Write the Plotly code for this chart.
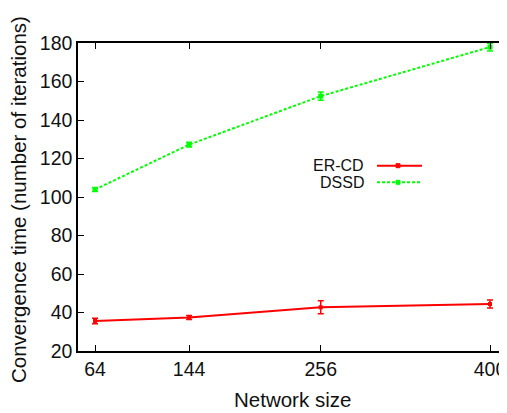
import plotly.graph_objects as go

network_size = [64, 144, 256, 400]
ercd_mean = [35.6, 37.4, 42.7, 44.4]
ercd_err = [1.4, 1.0, 3.4, 2.1]
dssd_mean = [103.9, 127.2, 152.4, 177.9]
dssd_err = [1.0, 1.2, 2.2, 2.0]
y_ticks = [20, 40, 60, 80, 100, 120, 140, 160, 180]

RED = "#ff0000"
GREEN = "#00ff00"
FONT = "Liberation Sans, Arial, sans-serif"
TXT = "#111111"

# the page body adds an 8px offset; work in screen pixels and subtract it
OFF = 8
FIG_W, FIG_H = 507 - OFF, 413 - OFF
# plot area in screen pixels
L, R, T, B = 78, 507, 43, 351
W, H = R - L, B - T

def px(x):
    return (x - L) / W

def py(y):
    return 1 - (y - T) / H

fig = go.Figure()
fig.add_trace(go.Scatter(
    x=network_size, y=ercd_mean, name="ER-CD", mode="lines+markers",
    line=dict(color=RED, width=2),
    marker=dict(symbol="square", size=4, color=RED),
    error_y=dict(type="data", array=ercd_err, color=RED, thickness=1.5, width=3),
))
fig.add_trace(go.Scatter(
    x=network_size, y=dssd_mean, name="DSSD", mode="lines+markers",
    line=dict(color=GREEN, width=2, dash="3px,2px"),
    marker=dict(symbol="square", size=5, color=GREEN),
    error_y=dict(type="data", array=dssd_err, color=GREEN, thickness=1.5, width=3),
))

# manual legend (gnuplot style: label on the left, sample on the right)
legend_items = [("ER-CD", RED, "solid"), ("DSSD", GREEN, "3px,2px")]
for i, (label, col, dash) in enumerate(legend_items):
    yy = 165.7 + i * 16.6
    fig.add_annotation(x=px(366), y=py(yy), xref="paper", yref="paper",
                       text=label, showarrow=False, xanchor="right", yanchor="middle",
                       font=dict(family=FONT, size=16, color=TXT))
    fig.add_shape(type="line", xref="paper", yref="paper", x0=px(377), x1=px(422),
                  y0=py(yy), y1=py(yy), line=dict(color=col, width=2, dash=dash))
    fig.add_shape(type="rect", xref="paper", yref="paper",
                  x0=px(396), x1=px(400), y0=py(yy + 2), y1=py(yy - 2),
                  line=dict(color=col, width=1), fillcolor=col)

# axis titles
fig.add_annotation(x=px(292), y=py(399), xref="paper", yref="paper", text="Network size",
                   showarrow=False, xanchor="center", yanchor="middle",
                   font=dict(family=FONT, size=20.5, color=TXT))
fig.add_annotation(x=px(18), y=py(200), xref="paper", yref="paper",
                   text="Convergence time (number of iterations)", textangle=-90,
                   showarrow=False, xanchor="center", yanchor="middle",
                   font=dict(family=FONT, size=20.5, color=TXT))

axis_common = dict(
    showline=True, linecolor="black", linewidth=1.5, mirror="ticks",
    ticks="inside", ticklen=6, tickwidth=1, tickcolor="black",
    showgrid=False, zeroline=False, automargin=False, ticklabeloverflow="allow",
    tickfont=dict(family=FONT, size=19.5, color=TXT),
)

fig.update_layout(
    width=FIG_W, height=FIG_H,
    margin=dict(l=L - OFF, r=507 - R, t=T - OFF, b=FIG_H - (B - OFF), pad=0),
    paper_bgcolor="white", plot_bgcolor="white",
    showlegend=False,
    xaxis=dict(range=[49.5, 400 + (R - 490) / 1.176], tickvals=network_size,
               ticktext=[str(v) for v in network_size], **axis_common),
    yaxis=dict(range=[20, 180], tickvals=y_ticks, **axis_common),
)

fig.write_html("out.html")
